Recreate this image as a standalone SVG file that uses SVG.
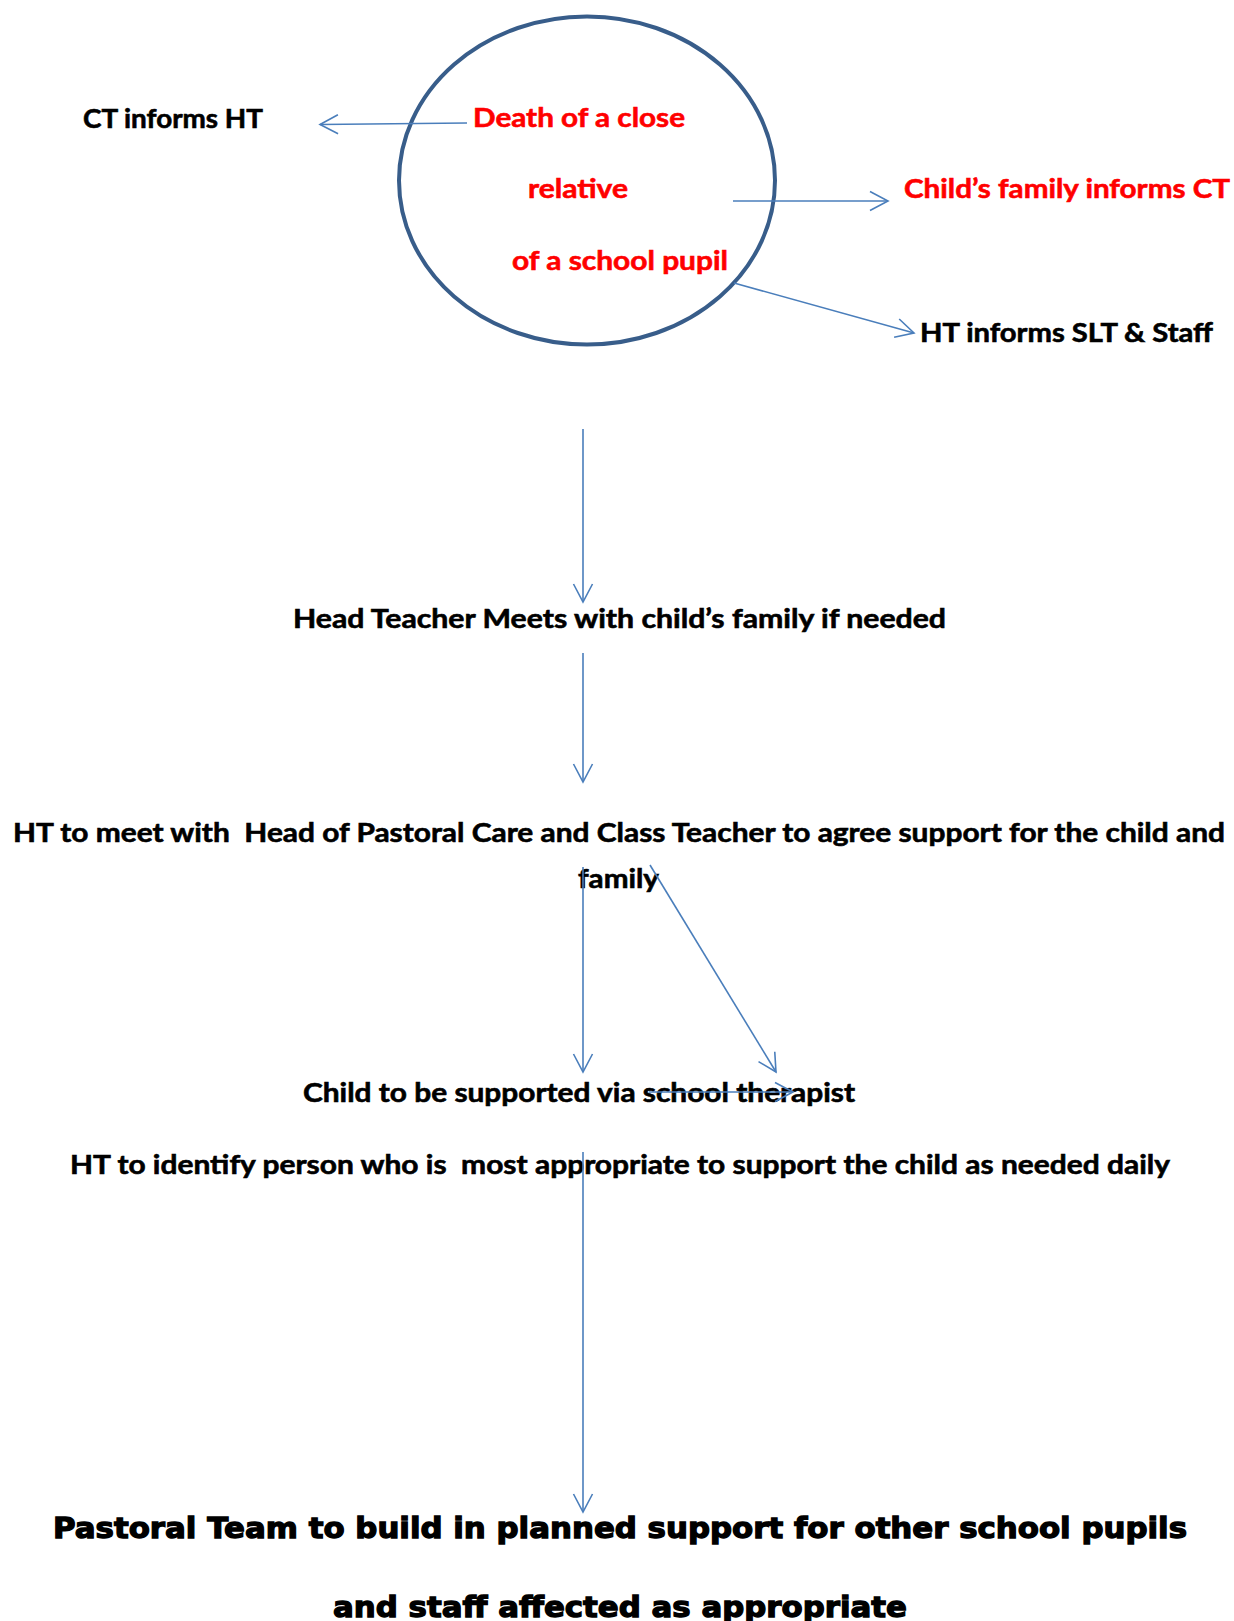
<svg xmlns="http://www.w3.org/2000/svg" width="1234" height="1621" viewBox="0 0 1234 1621">
  <style>
    .lbl { font-family: Lato, "Open Sans", "Liberation Sans", sans-serif; font-weight: 700; font-size: 27px; fill: #000000; stroke: #000000; stroke-width: 0.6; }
    .red { fill: #ff0000; stroke: #ff0000; }
    .big { font-family: "DejaVu Sans", "Liberation Sans", sans-serif; font-weight: 700; font-size: 29px; fill: #000000; stroke: #000000; stroke-width: 1.3; }
    .conn { stroke: #4a7ebb; stroke-width: 1.6; fill: none; marker-end: url(#open-arrow); }
  </style>
  <defs>
    <marker id="open-arrow" markerUnits="userSpaceOnUse" viewBox="-20 -12 22 24" refX="0" refY="0" markerWidth="22" markerHeight="24" orient="auto">
      <path d="M-18,-9.5 L0,0 L-18,9.5" fill="none" stroke="#4a7ebb" stroke-width="1.6"/>
    </marker>
  </defs>
  <rect width="1234" height="1621" fill="#ffffff"/>

  <!-- central event -->
  <g id="event">
    <ellipse cx="587" cy="180.5" rx="188" ry="164" fill="none" stroke="#385d8a" stroke-width="4"/>
    <text class="lbl red" x="473" y="127" textLength="212" lengthAdjust="spacingAndGlyphs">Death of a close</text>
    <text class="lbl red" x="528" y="198" textLength="100" lengthAdjust="spacingAndGlyphs">relative</text>
    <text class="lbl red" x="512" y="270" textLength="216" lengthAdjust="spacingAndGlyphs">of a school pupil</text>
  </g>

  <g id="ct-informs-ht">
    <text class="lbl" x="83" y="128" textLength="180" lengthAdjust="spacingAndGlyphs">CT informs HT</text>
  </g>

  <g id="family-informs-ct">
    <text class="lbl red" x="904" y="198" textLength="326" lengthAdjust="spacingAndGlyphs">Child’s family informs CT</text>
  </g>

  <g id="ht-informs-staff">
    <text class="lbl" x="920" y="342" textLength="293" lengthAdjust="spacingAndGlyphs">HT informs SLT &amp; Staff</text>
  </g>

  <g id="head-meets-family">
    <text class="lbl" x="293" y="628" textLength="653" lengthAdjust="spacingAndGlyphs">Head Teacher Meets with child’s family if needed</text>
  </g>

  <g id="agree-support">
    <text class="lbl" x="13" y="842" textLength="1212" lengthAdjust="spacingAndGlyphs" xml:space="preserve">HT to meet with  Head of Pastoral Care and Class Teacher to agree support for the child and</text>
    <text class="lbl" x="578" y="888" textLength="81" lengthAdjust="spacingAndGlyphs">family</text>
  </g>

  <g id="therapist">
    <text class="lbl" x="303" y="1102" textLength="552" lengthAdjust="spacingAndGlyphs">Child to be supported via school therapist</text>
  </g>

  <g id="daily-support">
    <text class="lbl" x="70" y="1174" textLength="1100" lengthAdjust="spacingAndGlyphs" xml:space="preserve">HT to identify person who is  most appropriate to support the child as needed daily</text>
  </g>

  <g id="pastoral-team">
    <text class="big" x="53" y="1538" textLength="1134" lengthAdjust="spacingAndGlyphs">Pastoral Team to build in planned support for other school pupils</text>
    <text class="big" x="333" y="1617" textLength="574" lengthAdjust="spacingAndGlyphs">and staff affected as appropriate</text>
  </g>

  <!-- connectors -->
  <g id="connectors">
    <line class="conn" x1="467" y1="123" x2="320" y2="124.5"/>
    <line class="conn" x1="733" y1="201" x2="888" y2="201"/>
    <line class="conn" x1="734" y1="283" x2="914" y2="333"/>
    <line class="conn" x1="583" y1="429" x2="583" y2="602"/>
    <line class="conn" x1="583" y1="653" x2="583" y2="782"/>
    <line class="conn" x1="583" y1="867" x2="583" y2="1072"/>
    <line class="conn" x1="650" y1="865" x2="776" y2="1072"/>
    <line class="conn" x1="649" y1="1092" x2="793" y2="1092"/>
    <line class="conn" x1="583" y1="1152" x2="583" y2="1512"/>
  </g>
</svg>
